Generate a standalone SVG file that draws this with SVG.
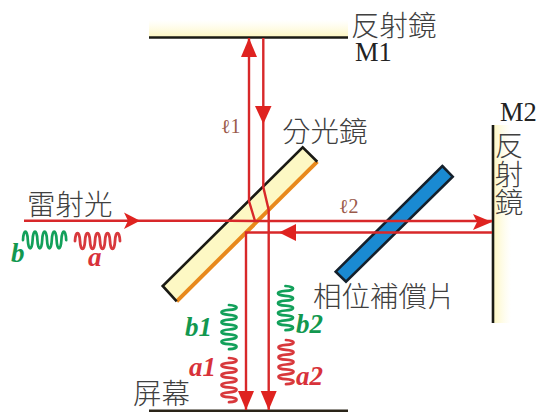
<svg xmlns="http://www.w3.org/2000/svg" xmlns:xlink="http://www.w3.org/1999/xlink" width="539" height="413" viewBox="0 0 539 413">
<style>
.cjk{font-family:"Noto Sans CJK TC","Noto Sans CJK SC",sans-serif;font-size:28.5px;font-weight:300;fill:#404040}
.lat{font-family:"Liberation Serif",serif;font-size:26.5px;fill:#222}
.wl{font-family:"Liberation Serif",serif;font-weight:bold;font-style:italic;font-size:27px}
.ell{font-family:"Liberation Serif",serif;font-size:20px;fill:#9a5a4a}
.beam{fill:none;stroke:#d8282a;stroke-width:2.4}
.head{fill:#df2320}
.wave{fill:none;stroke-width:2.8;stroke-linecap:round}
.g{stroke:#12a05a}.r{stroke:#d8383c}
.gt{fill:#12984f}.rt{fill:#d8323a}
</style>
<defs>
<linearGradient id="gm1" x1="0" y1="0" x2="0" y2="1"><stop offset="0" stop-color="#fffbd8" stop-opacity="0"/><stop offset="1" stop-color="#fdf6c0"/></linearGradient>
<linearGradient id="gm2" x1="0" y1="0" x2="1" y2="0"><stop offset="0" stop-color="#fdf6c0"/><stop offset="1" stop-color="#fffbd8" stop-opacity="0"/></linearGradient>
<path id="w" d="M0 0C.5 -10 4.5 -10 5 0S9.500 10 10 0S14.500 -10 15 0S19.500 10 20 0S24.500 -10 25 0S29.500 10 30 0S34.500 -10 35 0S39.500 10 40 0S44.500 -10 45 0"/>
</defs>
<rect width="539" height="413" fill="#fff"/>
<g id="mirror-m1">
<rect x="149" y="20" width="199" height="17" fill="url(#gm1)"/>
<line x1="149" y1="37.5" x2="348" y2="37.5" stroke="#1a1a14" stroke-width="2.6"/>
<text class="cjk" x="351" y="36">反射鏡</text>
<text class="lat" x="355" y="61">M1</text>
</g>
<g id="mirror-m2">
<rect x="493" y="125" width="18" height="198" fill="url(#gm2)"/>
<line x1="493" y1="125" x2="493" y2="323" stroke="#1a1a14" stroke-width="2.6"/>
<text class="lat" x="500" y="121">M2</text>
<text class="cjk" style="writing-mode:vertical-rl" x="509" y="131">反射鏡</text>
</g>
<g id="splitter">
<polygon points="302.7,147.3 317.3,161.7 176.7,301.3 162.7,286" fill="#fdf8c4"/>
<path d="M317.3 161.7L176.7 301.3" stroke="#e8891c" stroke-width="4" fill="none"/>
<path d="M176.7 301.3L162.7 286L302.7 147.3L317.3 161.7" stroke="#1a1a14" stroke-width="2.6" fill="none"/>
<text class="cjk" x="282" y="142">分光鏡</text>
</g>
<g id="compensator">
<polygon points="442.3,166 452.7,176.7 346,281.7 335.7,271.7" fill="#1a8ad2" stroke="#14202c" stroke-width="2.6"/>
<text class="cjk" x="313" y="307">相位補償片</text>
</g>
<g id="screen">
<line x1="149" y1="410.7" x2="348" y2="410.7" stroke="#2a2418" stroke-width="2.6"/>
<text class="cjk" x="133" y="404">屏幕</text>
</g>
<g id="laser-label"><text class="cjk" x="27" y="215">雷射光</text></g>
<g id="connectors">
<path class="beam" d="M24 220.7H230L255 221H492"/>
<path class="beam" d="M492 232.500H246V410"/>
<path class="beam" d="M249 38V201L255 221"/>
<path class="beam" d="M263.3 38V187L268.7 210V410"/>
<polygon class="head" points="249,38 257,57 241,57"/>
<polygon class="head" points="263.3,124 255,106 271.500,106"/>
<polygon class="head" points="140,220.7 124,212.500 128,220.7 124,229"/>
<polygon class="head" points="492,222 473,214 477,222 473,230"/>
<polygon class="head" points="279,232.500 296,224 296,241"/>
<polygon class="head" points="246,410 238,391 254,391"/>
<polygon class="head" points="268.7,410 260.7,391 276.7,391"/>
</g>
<g id="wave-b"><use href="#w" class="wave g" transform="translate(23,240) scale(.96,1.1)"/><text class="wl gt" x="11" y="262">b</text></g>
<g id="wave-a"><use href="#w" class="wave r" transform="translate(75,241) scale(1,1.05)"/><text class="wl rt" x="88" y="266">a</text></g>
<g id="wave-b1"><use href="#w" class="wave g" transform="translate(229,305) rotate(90) scale(.98,1)"/><text class="wl gt" x="185" y="336">b1</text></g>
<g id="wave-a1"><use href="#w" class="wave r" transform="translate(229,358) rotate(90) scale(.98,1)"/><text class="wl rt" x="189" y="376">a1</text></g>
<g id="wave-b2"><use href="#w" class="wave g" transform="translate(285.500,286) rotate(90) scale(.98,1)"/><text class="wl gt" x="296" y="333">b2</text></g>
<g id="wave-a2"><use href="#w" class="wave r" transform="translate(286,340) rotate(90) scale(.98,1)"/><text class="wl rt" x="296" y="385">a2</text></g>
<g id="lengths">
<text class="ell" x="221" y="133">ℓ1</text>
<text class="ell" x="339" y="213">ℓ2</text>
</g>
</svg>
